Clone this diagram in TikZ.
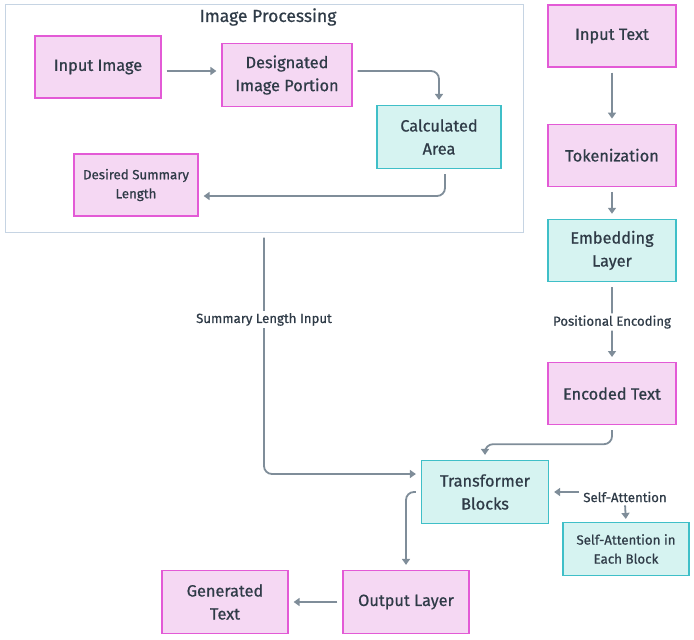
\documentclass[tikz,border=0pt]{standalone}
\usepackage{fontspec}
\setmainfont{Fira Sans}[BoldFont=Fira Sans,BoldFeatures={FakeBold=0.7}]
\usetikzlibrary{positioning,arrows.meta}
\definecolor{pinkfill}{HTML}{F5D8F3}
\definecolor{pinkline}{HTML}{E35AD6}
\definecolor{tealfill}{HTML}{D6F3F1}
\definecolor{tealline}{HTML}{3FBFC8}
\definecolor{arrowc}{HTML}{7F8D99}
\definecolor{ink}{HTML}{2F3B47}
\definecolor{frameline}{HTML}{C6D4E3}

\begin{document}
\begin{tikzpicture}[x=1pt,y=-1pt,font=\fontsize{16.3}{23}\selectfont\bfseries,
  box/.style={draw=pinkline,fill=pinkfill,line width=1.2pt,minimum width=126pt,minimum height=62pt,align=center,text=ink},
  tbox/.style={box,draw=tealline,fill=tealfill},
  arr/.style={-{Triangle[length=6pt,width=8pt]},draw=arrowc,line width=1.8pt,rounded corners=8pt,shorten <=5pt,shorten >=5pt},
  lbl/.style={font=\fontsize{13.2}{16}\selectfont\bfseries,text=ink,fill=white,inner sep=2pt},
  small/.style={font=\fontsize{13.3}{19}\selectfont\bfseries}]
\useasboundingbox (0,0) rectangle (694,640);
% image branch
\node[draw=frameline,line width=1pt,minimum width=518pt,minimum height=228pt] (imgproc) at (264,118) {};
\node[text=ink,font=\fontsize{17.5}{20}\selectfont\bfseries] (imgtitle) at (268,17) {Image Processing};
\node[box] (inimg) at (98,67) {Input Image};
\node[box,minimum width=130pt,minimum height=63pt] (desig) at (287,75) {Designated\\Image Portion};
\node[tbox,minimum width=124pt,minimum height=63pt] (calc) at (439,137) {Calculated\\Area};
\node[box,minimum width=124pt,small] (desired) at (136,185) {Desired Summary\\Length};
% text branch
\node[box,minimum width=128pt] (intext) at (612,36) {Input Text};
\node[box,minimum width=128pt,below=56pt of intext] (tok) {Tokenization};
\node[tbox,minimum width=128pt,below=32pt of tok] (embed) {Embedding\\Layer};
\node[box,minimum width=128pt,below=80pt of embed] (enc) {Encoded Text};
% transformer
\node[tbox,minimum width=127pt,minimum height=63pt] (tb) at (485,492) {Transformer\\Blocks};
\node[lbl] (sa) at (625,497) {Self-Attention};
\node[tbox,minimum width=126pt,minimum height=53pt,small] (sattn) at (626,549) {Self-Attention in\\Each Block};
\node[box,minimum width=126pt,minimum height=63pt] (out) at (406,602) {Output Layer};
\node[box,minimum width=126pt,minimum height=63pt] (gen) at (225,602) {Generated\\Text};
% connectors
\draw[arr] (inimg.east |- 0,71) -- (desig.west |- 0,71);
\draw[arr] (desig.east |- 0,71) -| (calc.north);
\draw[arr] ([xshift=6pt]calc.south) |- (desired.east |- 0,196);
\draw[arr] (imgproc.south) |- node[lbl,pos=0.18] {Summary Length Input} (tb.west |- 0,474);
\draw[arr] (intext) -- (tok);
\draw[arr] (tok) -- (embed);
\draw[arr] (embed) -- node[lbl] {Positional Encoding} (enc);
\draw[arr] (enc.south) -- ++(0,19) -| (tb.north);
\draw[arr,shorten <=2pt] (sa.west |- tb.east) -- (tb.east);
\draw[arr,shorten <=1pt,shorten >=3pt] (sa.south) -- (sattn.north);
\draw[arr] (tb.west) -| (out.north);
\draw[arr] (out) -- (gen);
\end{tikzpicture}
\end{document}
